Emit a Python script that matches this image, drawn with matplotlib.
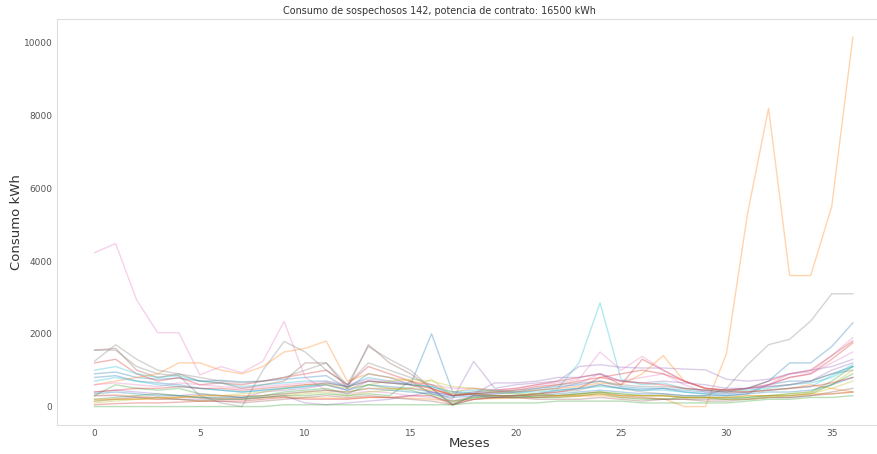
import numpy as np
import matplotlib
matplotlib.use("Agg")
import matplotlib.pyplot as plt

meses = np.arange(37)

# consumo mensual (kWh) de cada cliente sospechoso
c01 = [900, 950, 800, 750, 780, 700, 720, 680, 700, 750, 800, 850, 500, 900, 800, 600, 2000, 400, 350, 300, 300, 350, 450, 500, 600, 500, 450, 500, 400, 350, 300, 350, 600, 700, 700, 900, 1100]
c02 = [300, 320, 280, 250, 260, 240, 230, 220, 250, 260, 240, 230, 220, 260, 250, 230, 200, 150, 200, 220, 230, 250, 260, 280, 300, 250, 230, 220, 0, 0, 1450, 5300, 8200, 3600, 3600, 5500, 10150]
c03 = [300, 600, 500, 450, 500, 350, 300, 250, 300, 400, 450, 500, 350, 600, 500, 450, 300, 100, 250, 300, 300, 250, 250, 300, 350, 250, 200, 200, 250, 250, 200, 250, 300, 350, 400, 700, 1100]
c04 = [1200, 1300, 900, 700, 800, 600, 650, 600, 700, 800, 900, 1000, 600, 1100, 900, 700, 500, 300, 400, 450, 500, 600, 700, 800, 900, 600, 1300, 1000, 700, 500, 450, 500, 700, 900, 1000, 1400, 1800]
c05 = [400, 450, 400, 350, 300, 350, 300, 250, 400, 450, 500, 600, 450, 700, 650, 600, 400, 200, 1240, 500, 600, 650, 700, 1100, 1150, 1080, 1060, 1060, 1030, 1010, 750, 700, 750, 900, 1000, 1100, 1300]
c06 = [1550, 1600, 1000, 800, 900, 700, 650, 500, 600, 700, 1200, 1200, 500, 1700, 1200, 900, 500, 50, 300, 250, 250, 250, 300, 350, 400, 300, 250, 200, 200, 200, 200, 200, 250, 250, 300, 400, 500]
c07 = [4230, 4480, 2930, 2030, 2030, 870, 1100, 930, 1250, 2340, 800, 450, 350, 420, 380, 300, 250, 150, 300, 350, 400, 450, 500, 650, 900, 700, 800, 900, 600, 400, 350, 400, 600, 800, 900, 1200, 1500]
c08 = [1550, 1550, 1100, 900, 850, 300, 100, 0, 1000, 1790, 1500, 1000, 600, 1650, 1300, 1000, 500, 50, 300, 300, 300, 350, 400, 450, 600, 500, 400, 350, 300, 300, 500, 1150, 1700, 1850, 2350, 3100, 3100]
c09 = [100, 150, 200, 250, 200, 150, 200, 200, 250, 300, 350, 400, 300, 400, 450, 500, 750, 300, 350, 300, 300, 350, 300, 350, 400, 350, 300, 300, 250, 250, 250, 300, 300, 350, 400, 600, 1000]
c10 = [1000, 1100, 900, 800, 850, 700, 650, 550, 600, 650, 700, 700, 550, 800, 700, 600, 550, 350, 400, 400, 350, 450, 500, 1200, 2850, 740, 600, 650, 500, 450, 400, 450, 500, 600, 650, 800, 1100]
c11 = [800, 850, 700, 650, 600, 500, 450, 400, 450, 500, 550, 600, 450, 600, 550, 500, 400, 300, 350, 350, 400, 500, 550, 600, 700, 550, 500, 500, 450, 400, 400, 500, 700, 1200, 1200, 1650, 2300]
c12 = [600, 700, 800, 900, 1200, 1200, 1000, 900, 1100, 1500, 1600, 1800, 700, 900, 800, 700, 600, 400, 500, 450, 400, 450, 500, 550, 650, 600, 900, 1400, 700, 500, 450, 400, 450, 500, 600, 500, 400]
c13 = [200, 250, 300, 350, 300, 250, 200, 200, 250, 300, 300, 350, 300, 350, 300, 700, 350, 150, 250, 250, 250, 300, 300, 350, 400, 350, 300, 300, 250, 250, 250, 250, 300, 300, 350, 600, 900]
c14 = [50, 80, 100, 100, 120, 150, 150, 150, 200, 250, 200, 200, 200, 250, 250, 300, 300, 50, 200, 250, 300, 350, 400, 500, 800, 900, 1000, 900, 700, 500, 450, 500, 600, 800, 900, 1300, 1750]
c15 = [300, 300, 250, 250, 200, 200, 200, 200, 250, 300, 100, 50, 100, 150, 200, 300, 400, 300, 350, 650, 650, 700, 800, 800, 900, 700, 650, 700, 650, 600, 500, 500, 550, 600, 700, 1000, 1200]
c16 = [150, 200, 250, 200, 200, 150, 150, 100, 150, 200, 250, 300, 250, 300, 250, 200, 150, 50, 200, 250, 250, 200, 200, 200, 250, 200, 150, 200, 200, 150, 150, 200, 250, 250, 300, 350, 400]
c17 = [600, 650, 600, 550, 650, 600, 550, 500, 550, 600, 650, 700, 600, 750, 700, 650, 600, 500, 500, 450, 500, 600, 650, 750, 1500, 1000, 1380, 1000, 700, 500, 450, 500, 600, 900, 950, 1400, 1890]
c18 = [1250, 1700, 1300, 1000, 900, 800, 700, 650, 700, 800, 1000, 1200, 600, 1200, 1000, 800, 600, 300, 350, 400, 450, 500, 600, 650, 700, 600, 550, 550, 500, 450, 450, 500, 550, 600, 700, 900, 1000]
c19 = [150, 200, 200, 250, 250, 300, 300, 350, 400, 500, 600, 600, 500, 600, 700, 750, 700, 550, 500, 400, 350, 350, 300, 300, 350, 300, 300, 300, 250, 250, 200, 200, 250, 300, 350, 500, 700]
c20 = [700, 800, 700, 600, 550, 500, 450, 400, 450, 500, 550, 650, 550, 700, 650, 600, 550, 400, 450, 450, 400, 400, 450, 500, 550, 500, 450, 450, 400, 350, 350, 400, 450, 500, 550, 850, 1150]
c21 = [350, 400, 350, 300, 300, 250, 250, 250, 300, 350, 400, 450, 400, 500, 450, 400, 350, 250, 300, 300, 300, 300, 350, 400, 450, 400, 350, 350, 300, 300, 300, 350, 400, 400, 450, 600, 800]
c22 = [200, 200, 200, 200, 250, 300, 300, 300, 300, 350, 400, 450, 400, 500, 500, 500, 450, 350, 350, 300, 300, 300, 300, 300, 350, 300, 300, 300, 250, 250, 250, 300, 300, 300, 350, 350, 400]
c23 = [0, 0, 0, 0, 0, 0, 0, 0, 0, 50, 50, 50, 50, 50, 50, 50, 50, 50, 100, 100, 100, 100, 150, 150, 150, 150, 100, 100, 100, 100, 100, 150, 200, 200, 250, 250, 300]
c24 = [400, 450, 500, 500, 550, 500, 500, 450, 500, 550, 600, 650, 550, 700, 650, 600, 500, 300, 350, 400, 450, 550, 600, 700, 800, 700, 650, 600, 500, 450, 400, 400, 450, 500, 550, 650, 800]

clientes = [c01, c02, c03, c04, c05, c06, c07, c08, c09, c10, c11, c12,
            c13, c14, c15, c16, c17, c18, c19, c20, c21, c22, c23, c24]

plt.rcParams['font.family'] = ['DejaVu Sans']
fig = plt.figure(figsize=(8.78, 4.54), dpi=100)
# el eje sigue más allá del borde derecho de la figura
ax = fig.add_axes([0.0645, 0.064, 0.95, 0.894])

for c in clientes:
    ax.plot(meses, c, linewidth=1, alpha=0.33)

ax.set_xlim(-1.8, 37.8)
ax.set_ylim(-505, 10650)
ax.set_xticks([0, 5, 10, 15, 20, 25, 30, 35])
ax.set_yticks([0, 2000, 4000, 6000, 8000, 10000])
ax.tick_params(length=0, labelsize=6.5, labelcolor='#555555', pad=3)
for s in ['left', 'bottom', 'top']:
    ax.spines[s].set_color('#dddddd')
ax.spines['right'].set_visible(False)

ax.set_xlabel('Meses', fontsize=9.5, color='#333333')
ax.xaxis.set_label_coords(0.4955, -0.030)
ax.set_ylabel('Consumo kWh', fontsize=9.5, color='#333333')
ax.yaxis.set_label_coords(-0.040, 0.5)
fig.suptitle('Consumo de sospechosos 142, potencia de contrato: 16500 kWh',
             x=0.5, y=0.987, fontsize=6.9, color='#333333')

fig.savefig('out.png', dpi=100)
